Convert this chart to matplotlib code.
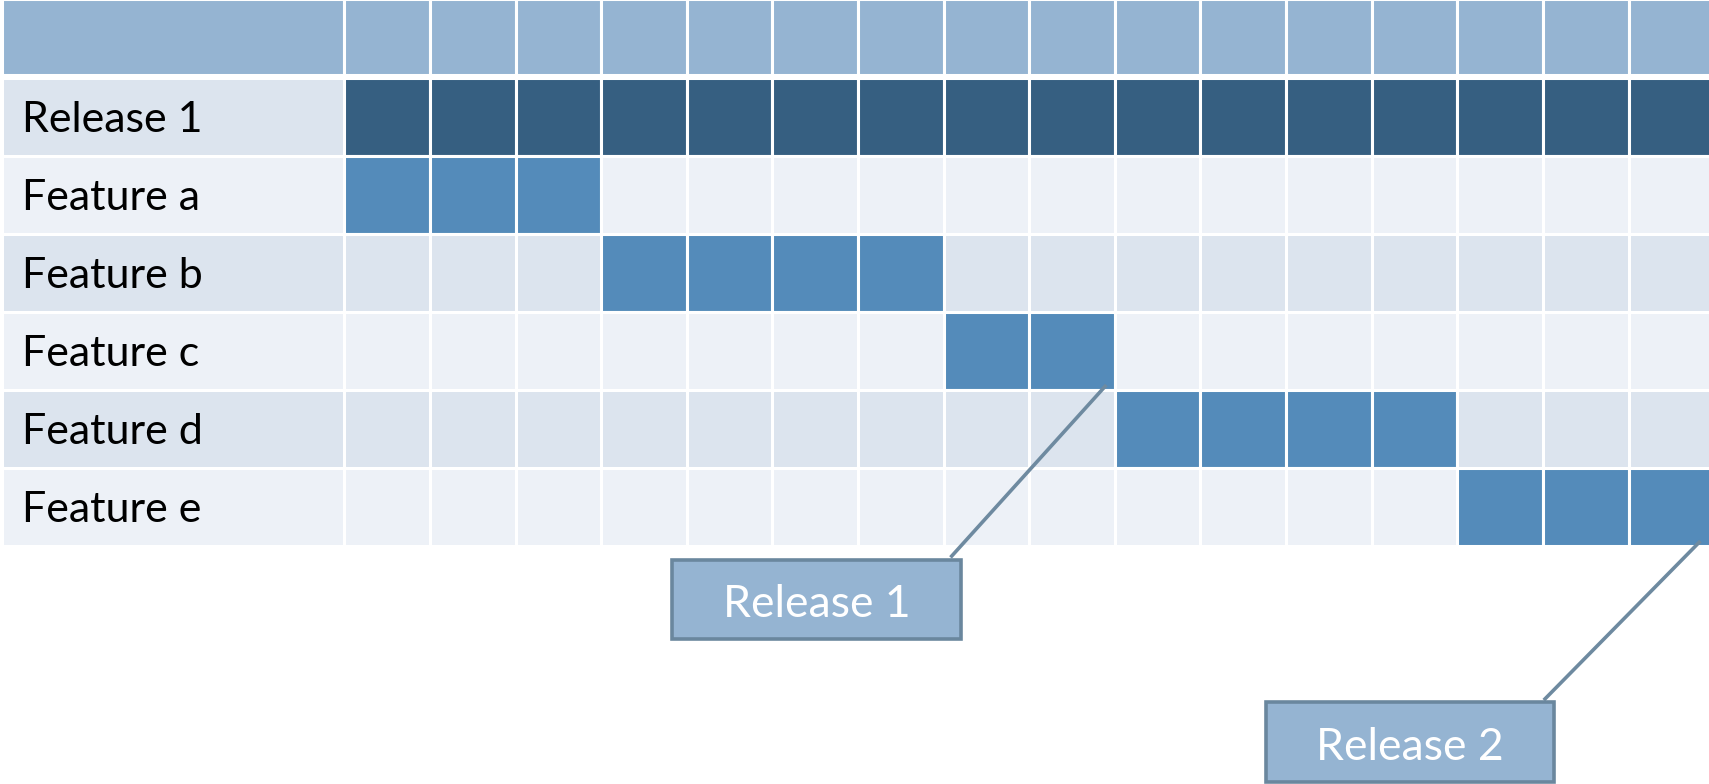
import matplotlib.pyplot as plt
from matplotlib.patches import Rectangle

# schedule data
tasks = ['Release 1', 'Feature a', 'Feature b', 'Feature c', 'Feature d', 'Feature e']
starts = [0, 0, 3, 7, 9, 13]
lengths = [16, 3, 4, 2, 4, 3]
n_cols = 16

# callouts: label -> task whose end they point at
callout_labels = ['Release 1', 'Release 2']
callout_targets = ['Feature c', 'Feature e']

# colours
header_col = '#95B4D2'
release_col = '#365F81'
feature_col = '#548BBA'
row_cols = ['#DCE4EE', '#EDF1F7']
box_edge = '#6A879E'
line_col = '#6E8AA0'

plt.rcParams['font.family'] = ['Lato', 'DejaVu Sans']

fig = plt.figure(figsize=(17.09, 7.84), dpi=100)
ax = fig.add_axes([0, 0, 1, 1])
ax.set_xlim(-4.023, 15.94)
ax.set_ylim(9.045, -1.006)
ax.axis('off')

lw = 2.2  # white gaps between cells

# header row
ax.add_patch(Rectangle((-4, -1.02), 4, 0.98, fc=header_col, ec='white', lw=lw))
for j in range(n_cols):
    ax.add_patch(Rectangle((j, -1.02), 1, 0.98, fc=header_col, ec='white', lw=lw))

# task rows
for i, (name, s, l) in enumerate(zip(tasks, starts, lengths)):
    bg = row_cols[i % 2]
    ax.add_patch(Rectangle((-4, i), 4, 1, fc=bg, ec='white', lw=lw))
    ax.text(-3.77, i + 0.69, name, fontsize=31, va='baseline', ha='left', color='black')
    for j in range(n_cols):
        if s <= j < s + l:
            c = release_col if i == 0 else feature_col
        else:
            c = bg
        ax.add_patch(Rectangle((j, i), 1, 1, fc=c, ec='white', lw=lw))

# callout boxes (layout positions)
box_pos = [(3.83, 6.17), (10.76, 8.0)]
box_w, box_h = 3.37, 1.02
for label, target, (bx, by) in zip(callout_labels, callout_targets, box_pos):
    k = tasks.index(target)
    end = min(starts[k] + lengths[k], 15.94)
    ax.plot([end - 0.1, bx + box_w - 0.12], [k + 0.93, by - 0.03],
            color=line_col, lw=2.6, solid_capstyle='butt', zorder=3)
    ax.add_patch(Rectangle((bx, by), box_w, box_h, fc=header_col, ec=box_edge,
                           lw=2.6, zorder=4))
    ax.text(bx + box_w / 2, by + box_h / 2 + 0.07, label, fontsize=32, color='white',
            ha='center', va='center', zorder=5)

fig.savefig('out.png', dpi=100)
